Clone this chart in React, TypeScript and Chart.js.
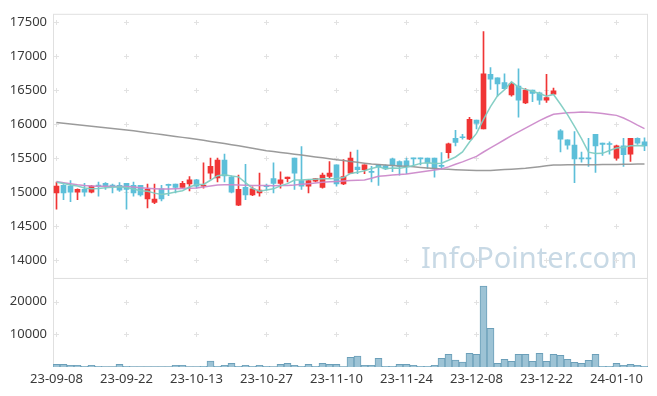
import React, { useEffect, useRef } from "react";
import { Chart, registerables } from "chart.js";

Chart.register(...registerables);

const dates = ["23-09-08","23-09-11","23-09-12","23-09-13","23-09-14","23-09-15","23-09-18","23-09-19","23-09-20","23-09-21","23-09-22","23-09-25","23-09-26","23-09-27","23-10-04","23-10-05","23-10-06","23-10-10","23-10-11","23-10-12","23-10-13","23-10-16","23-10-17","23-10-18","23-10-19","23-10-20","23-10-23","23-10-24","23-10-25","23-10-26","23-10-27","23-10-30","23-10-31","23-11-01","23-11-02","23-11-03","23-11-06","23-11-07","23-11-08","23-11-09","23-11-10","23-11-13","23-11-14","23-11-15","23-11-16","23-11-17","23-11-20","23-11-21","23-11-22","23-11-23","23-11-24","23-11-27","23-11-28","23-11-29","23-11-30","23-12-01","23-12-04","23-12-05","23-12-06","23-12-07","23-12-08","23-12-11","23-12-12","23-12-13","23-12-14","23-12-15","23-12-18","23-12-19","23-12-20","23-12-21","23-12-22","23-12-26","23-12-27","23-12-28","24-01-02","24-01-03","24-01-04","24-01-05","24-01-08","24-01-09","24-01-10","24-01-11","24-01-12","24-01-15","24-01-16"];

const xTickLabels = ["23-09-08","23-09-22","23-10-13","23-10-27","23-11-10","23-11-24","23-12-08","23-12-22","24-01-10"];
const priceTicks = [14000, 14500, 15000, 15500, 16000, 16500, 17000, 17500];
const volumeTicks = [10000, 20000];

const opens = [14990,15100,15090,15000,15040,15000,15100,15130,15100,15100, 15130,15100,15100,14900,14850,15050,15110,15120,15070,15120, 15180,15090,15280,15210,15470,15220,14810,15070,14960,14990, 15100,15200,15130,15200,15500,15170,15090,15160,15070,15230, 15400,15120,15280,15370,15330,15300,15400,15390,15490,15450, 15460,15500,15500,15500,15500,15390,15580,15790,15810,15780, 16060,15930,16730,16680,16610,16430,16560,16310,16500,16460, 16350,16440,15900,15770,15690,15500,15500,15850,15720,15710, 15500,15680,15560,15790,15740];
const highs = [15150,15110,15170,15050,15130,15100,15150,15140,15120,15140, 15130,15150,15100,15120,15120,15100,15120,15120,15160,15230, 15190,15430,15500,15500,15560,15240,15250,15410,15080,15280, 15120,15430,15300,15220,15500,15670,15180,15200,15280,15450, 15400,15480,15590,15620,15400,15380,15400,15400,15500,15460, 15500,15500,15500,15500,15500,15580,15720,15910,15850,16100, 16060,17360,16830,16680,16740,16610,16810,16520,16500,16470, 16730,16530,15920,15770,15890,15590,15790,15850,15720,15740, 15690,15790,15790,15800,15800];
const lows = [14750,14890,14860,14890,14940,14990,14940,15040,14990,15010, 14750,14940,14940,14770,14830,14870,14950,14990,15070,15020, 15060,15060,15190,15150,15150,14990,14800,14890,14950,14940, 15030,14990,15060,15150,15040,15040,14990,15150,15060,15200, 15090,15110,15270,15270,15270,15150,15100,15330,15300,15250, 15270,15400,15400,15350,15220,15340,15500,15680,15780,15770, 15930,15930,16510,16410,16510,16410,16100,16300,16330,16290, 16320,16440,15590,15630,15140,15440,15380,15290,15540,15560, 15470,15380,15450,15700,15610];
const closes = [15090,14990,15000,15040,15000,15090,15090,15090,15090,15030, 15040,14990,14960,15040,14900,14900,15100,15070,15130,15180, 15090,15100,15380,15470,15240,15000,15040,14960,15050,15030, 15080,15130,15180,15220,15280,15090,15170,15200,15250,15280, 15120,15230,15500,15330,15400,15290,15370,15340,15390,15380, 15370,15490,15490,15430,15340,15380,15710,15730,15800,16070, 16010,16740,16660,16590,16520,16590,16350,16500,16450,16350, 16390,16490,15780,15690,15490,15490,15490,15680,15700,15700, 15680,15550,15790,15720,15680];

const volumes = [816,816,510,510,200,510,200,100,100,816, 200,150,150,150,150,150,150,510,510,100, 100,200,1840,200,510,1120,200,510,200,510, 200,100,816,1120,510,200,816,200,1120,816, 816,150,2960,3370,510,510,2650,200,200,816, 816,510,200,200,510,2650,3880,2140,1530,4180, 3880,24800,11840,1120,2350,1730,3880,3880,1730,4180, 1730,3880,3570,2350,1430,1120,2040,3880,200,200, 1120,510,816,510,200];

const ma5 = [15146,15128,15107,15090,15060,15050,15055,15065,15071,15078, 15067,15047,15021,15013,14986,14965,14982,15004,15022,15076, 15113,15113,15175,15243,15255,15237,15225,15141,15057,15015, 15031,15049,15092,15126,15178,15179,15187,15191,15196,15196, 15202,15215,15275,15291,15315,15348,15374,15343,15356,15352, 15368,15393,15423,15431,15423,15426,15469,15517,15591,15737, 15863,16070,16257,16415,16504,16620,16542,16510,16482,16449, 16408,16435,16291,16139,15965,15787,15588,15568,15570,15613, 15650,15661,15683,15687,15683];
const ma20 = [15156,15140,15125,15110,15098,15092,15088,15086,15085,15084, 15083,15075,15066,15058,15052,15048,15048,15050,15053,15058, 15063,15075,15090,15107,15110,15108,15104,15100,15098,15098, 15097,15096,15097,15098,15105,15115,15125,15136,15146,15152, 15158,15164,15170,15175,15180,15205,15234,15243,15251,15259, 15267,15282,15297,15311,15326,15340,15372,15409,15445,15485, 15526,15590,15650,15710,15770,15832,15885,15940,15995,16050, 16100,16143,16155,16165,16172,16178,16175,16168,16155,16142, 16128,16090,16040,15985,15934];
const ma120 = [16022,16012,16001,15990,15980,15969,15958,15947,15937,15926, 15915,15902,15888,15874,15860,15846,15833,15819,15805,15792, 15778,15762,15746,15730,15714,15698,15682,15664,15645,15627, 15609,15596,15583,15570,15558,15545,15531,15518,15504,15490, 15477,15464,15451,15438,15426,15413,15406,15400,15393,15386, 15380,15372,15364,15356,15348,15340,15335,15331,15326,15322, 15317,15318,15320,15325,15332,15338,15344,15350,15362,15375, 15387,15399,15400,15401,15402,15403,15404,15404,15405,15407, 15408,15409,15411,15412,15413];

const UP = "#f03535";
const DOWN = "#5dbfd9";
const FONT = { family: '"Noto Sans", sans-serif', size: 13 };

const panelPlugin = {
  id: "panels",
  beforeDatasetsDraw(chart: any) {
    const { ctx, chartArea } = chart;
    const x = chart.scales.x;
    const y = chart.scales.y;
    const yv = chart.scales.yv;
    ctx.save();
    ctx.font = '29px "Noto Sans", sans-serif';
    ctx.fillStyle = "#c8d9e5";
    ctx.textAlign = "left";
    ctx.textBaseline = "alphabetic";
    ctx.fillText("InfoPointer.com", 421, 268);

    ctx.strokeStyle = "#e2e2e2";
    ctx.lineWidth = 1;
    ctx.beginPath();
    const drawCross = (px: number, py: number) => {
      const cx = Math.floor(px) + 0.5;
      const cy = Math.round(py) + 0.5;
      ctx.moveTo(cx - 2.5, cy);
      ctx.lineTo(cx + 2.5, cy);
      ctx.moveTo(cx, cy - 2.5);
      ctx.lineTo(cx, cy + 2.5);
    };
    for (const t of x.ticks) {
      const px = x.getPixelForValue(t.value);
      for (const yt of y.ticks) drawCross(px, y.getPixelForValue(yt.value));
      for (const yt of yv.ticks) drawCross(px, yv.getPixelForValue(yt.value));
    }
    ctx.stroke();

    ctx.strokeStyle = "#e0e0e0";
    const w = chartArea.right - chartArea.left - 1;
    ctx.strokeRect(chartArea.left + 0.5, y.top + 0.5, w, y.bottom - y.top);
    ctx.strokeRect(chartArea.left + 0.5, yv.top + 0.5, w, yv.bottom - yv.top - 1);
    ctx.restore();
  },
};

export default function App() {
  const ref = useRef<HTMLCanvasElement>(null);
  useEffect(() => {
    const canvas = ref.current;
    if (!canvas) return;
    const colors = closes.map((c, i) => (c > opens[i] ? UP : DOWN));
    const bodies = opens.map((o, i) => [Math.min(o, closes[i]), Math.max(o, closes[i])]);
    const wicks = lows.map((l, i) => [l, highs[i]]);
    const chart = new Chart(canvas, {
      type: "bar",
      data: {
        labels: dates,
        datasets: [
          { type: "line", data: ma5, borderColor: "rgba(128,204,194,0.95)", borderWidth: 1.5, pointRadius: 0, yAxisID: "y", order: 0 },
          { type: "line", data: ma20, borderColor: "rgba(204,138,202,0.95)", borderWidth: 1.5, pointRadius: 0, yAxisID: "y", order: 0 },
          { type: "line", data: ma120, borderColor: "rgba(150,150,150,0.95)", borderWidth: 1.5, pointRadius: 0, yAxisID: "y", order: 0 },
          { type: "bar", data: bodies, backgroundColor: colors, barThickness: 5, grouped: false, minBarLength: 1, yAxisID: "y", order: 1 },
          { type: "bar", data: wicks, backgroundColor: colors, barThickness: 1, grouped: false, yAxisID: "y", order: 2 },
          { type: "bar", data: volumes, backgroundColor: "#9dc3d5", borderColor: "#6b9fb9", borderWidth: 1, categoryPercentage: 1, barPercentage: 1, grouped: false, yAxisID: "yv", order: 3 },
        ],
      } as any,
      options: {
        responsive: false,
        animation: false,
        layout: { padding: { left: 0, right: 9, top: 10, bottom: 0 } },
        plugins: { legend: { display: false }, tooltip: { enabled: false } },
        scales: {
          x: {
            type: "category",
            offset: true,
            grid: { display: false, drawTicks: false },
            border: { display: false },
            ticks: { autoSkip: false, maxRotation: 0, minRotation: 0, padding: 4, font: FONT, color: "#3a3a3a" },
            afterBuildTicks: (s: any) => {
              s.ticks = s.ticks.filter((t: any) => xTickLabels.includes(dates[t.value]));
            },
            afterFit: (s: any) => { s.height = 29; },
          },
          y: {
            type: "linear",
            position: "left",
            stack: "panes",
            stackWeight: 267,
            weight: 2,
            min: 13740,
            max: 17620,
            grid: { display: false, drawTicks: false },
            border: { display: false },
            ticks: { padding: 6, font: FONT, color: "#3a3a3a", callback: (v: any) => String(v) },
            afterBuildTicks: (s: any) => { s.ticks = priceTicks.map((v) => ({ value: v })); },
            afterFit: (s: any) => { s.width = 53; },
          },
          yv: {
            type: "linear",
            position: "left",
            stack: "panes",
            stackWeight: 90,
            weight: 1,
            min: 0,
            max: 27300,
            grid: { display: false, drawTicks: false },
            border: { display: false },
            ticks: { padding: 6, font: FONT, color: "#3a3a3a", callback: (v: any) => String(v) },
            afterBuildTicks: (s: any) => { s.ticks = volumeTicks.map((v) => ({ value: v })); },
            afterFit: (s: any) => { s.width = 53; },
          },
        },
      } as any,
      plugins: [panelPlugin],
    });
    return () => chart.destroy();
  }, []);
  return (
    <div style={{ position: "absolute", left: 0, top: 0, width: 657, height: 396, background: "#fff" }}>
      <canvas ref={ref} width={657} height={396} style={{ display: "block" }} />
    </div>
  );
}
